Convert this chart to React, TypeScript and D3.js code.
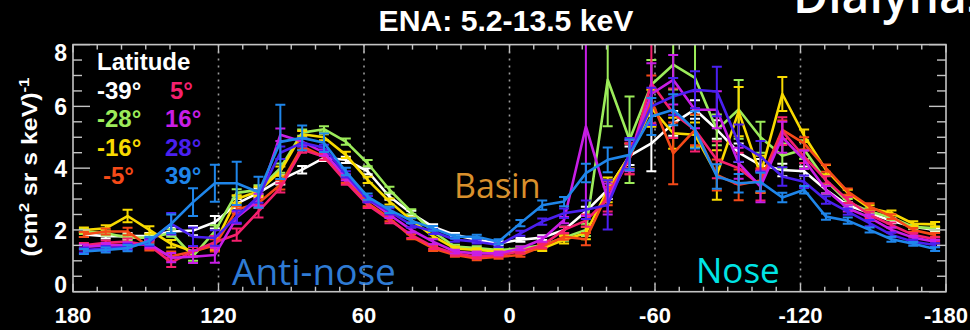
import React from 'react';
import * as d3 from 'd3';

// Longitude bin centres (deg), 9-degree bins
const longitudes = [175.5,166.5,157.5,148.5,139.5,130.5,121.5,112.5,103.5,94.5,85.5,76.5,67.5,58.5,49.5,40.5,31.5,22.5,13.5,4.5,-4.5,-13.5,-22.5,-31.5,-40.5,-49.5,-58.5,-67.5,-76.5,-85.5,-94.5,-103.5,-112.5,-121.5,-130.5,-139.5,-148.5,-157.5,-166.5,-175.5];

const latitudes = ['-39°', '-28°', '-16°', ' -5°', '5°', '16°', '28°', '39°'];
const colors = ['#ffffff', '#9cec5a', '#f8da00', '#f54a18', '#f5206e', '#c81ee6', '#4a20f0', '#1f86ea'];

const latM39 = [1.85,1.8,1.8,1.8,1.95,1.98,2.25,2.85,3.2,3.62,3.95,4.33,4.27,3.9,3.08,2.54,2.1,1.84,1.68,1.57,1.68,1.75,2.0,2.6,3.3,4.4,4.8,5.45,5.9,5.25,4.5,4.1,3.94,3.9,3.3,2.8,2.55,2.3,2.1,2.0];
const latM28 = [1.95,1.9,1.75,1.75,1.9,1.15,1.95,3.2,3.3,4.0,5.15,5.26,4.86,4.16,3.3,2.59,1.94,1.46,1.41,1.35,1.4,1.5,1.75,2.0,6.86,4.92,6.7,7.35,6.92,5.24,5.9,5.0,4.4,4.6,3.6,2.9,2.6,2.4,2.1,2.05];
const latM16 = [2.0,2.05,2.45,2.0,1.55,1.3,1.55,3.0,3.25,3.9,5.1,5.0,4.43,3.62,2.92,2.32,1.8,1.4,1.35,1.3,1.3,1.4,1.68,1.9,3.3,4.4,5.94,5.13,5.08,3.78,5.83,3.8,6.4,5.05,3.95,3.2,2.7,2.55,2.2,2.18];
const latM5 = [1.85,1.95,1.95,1.45,1.15,1.3,1.5,2.65,2.87,3.46,4.7,4.37,3.62,2.87,2.38,1.78,1.4,1.19,1.08,1.13,1.19,1.46,1.78,1.7,3.2,4.3,6.2,4.48,5.24,3.78,3.46,3.6,5.24,4.8,4.0,3.24,2.76,2.43,2.0,1.84];
const latP5 = [1.5,1.58,1.62,1.5,0.95,1.3,1.6,1.85,2.6,3.36,4.6,4.37,3.56,2.81,2.32,1.84,1.46,1.24,1.13,1.19,1.3,1.5,2.0,2.3,3.0,4.3,6.75,5.78,5.24,4.27,4.0,3.45,5.2,4.37,3.62,2.97,2.49,2.16,1.84,1.7];
const latP16 = [1.45,1.5,1.5,1.55,1.1,1.13,1.19,2.4,2.97,5.08,4.86,4.5,3.7,3.0,2.49,2.0,1.62,1.3,1.24,1.24,1.4,1.7,2.32,5.35,3.0,4.4,6.4,6.86,5.89,5.89,4.16,3.4,5.0,4.27,3.3,2.7,2.4,2.0,1.75,1.62];
const latP28 = [1.35,1.4,1.45,1.6,2.2,1.78,1.74,2.43,3.08,4.5,4.82,4.66,3.8,3.0,2.6,2.16,1.95,1.68,1.62,1.51,1.89,2.27,2.54,2.65,2.81,4.48,6.0,6.32,6.54,6.48,4.81,4.38,3.73,3.56,2.97,2.59,2.22,1.84,1.62,1.51];
const latP39 = [1.3,1.35,1.41,1.65,2.2,2.9,3.51,3.51,3.22,4.85,4.98,4.82,3.89,3.08,2.65,2.3,2.05,1.78,1.78,1.62,2.22,2.8,2.92,3.84,4.27,4.43,5.67,5.89,5.24,3.73,3.51,3.55,3.05,3.3,2.43,2.3,2.0,1.7,1.55,1.38];

const errM39 = [0.08,0.08,0.1,0.1,0.12,0.15,0.2,0.15,0.15,0.15,0.12,0.1,0.1,0.1,0.1,0.08,0.08,0.06,0.06,0.06,0.06,0.08,0.1,0.15,0.3,0.3,0.9,0.4,0.3,0.3,0.3,0.2,0.2,0.15,0.12,0.1,0.1,0.08,0.06,0.06];
const errM28 = [0.08,0.08,0.1,0.1,0.12,0.15,0.2,0.12,0.15,0.15,0.1,0.1,0.1,0.1,0.1,0.08,0.08,0.06,0.06,0.06,0.06,0.08,0.1,0.2,1.5,1.4,0.8,0.8,1.2,0.5,0.95,0.5,0.4,0.3,0.15,0.1,0.1,0.08,0.06,0.06];
const errM16 = [0.08,0.1,0.2,0.12,0.12,0.15,0.2,0.12,0.15,0.15,0.1,0.1,0.1,0.1,0.1,0.08,0.08,0.06,0.06,0.06,0.06,0.08,0.12,0.2,0.4,0.4,0.6,0.5,0.4,0.8,0.8,0.6,0.55,0.2,0.15,0.1,0.1,0.08,0.08,0.08];
const errM5 = [0.08,0.1,0.12,0.12,0.15,0.15,0.2,0.12,0.15,0.15,0.1,0.1,0.1,0.1,0.1,0.08,0.08,0.06,0.06,0.06,0.06,0.08,0.1,0.2,0.4,0.5,0.8,1.0,0.5,0.5,0.5,0.4,0.3,0.2,0.12,0.1,0.1,0.08,0.06,0.06];
const errP5 = [0.08,0.08,0.1,0.12,0.15,0.15,0.2,0.2,0.2,0.15,0.1,0.1,0.1,0.1,0.1,0.1,0.08,0.08,0.06,0.06,0.06,0.08,0.1,0.2,0.4,0.5,1.3,0.8,0.7,0.6,0.5,0.5,0.45,0.2,0.12,0.1,0.1,0.08,0.06,0.06];
const errP16 = [0.08,0.08,0.1,0.12,0.15,0.2,0.25,0.2,0.2,0.2,0.12,0.1,0.1,0.1,0.1,0.08,0.08,0.06,0.06,0.06,0.06,0.08,0.1,2.9,0.5,0.5,1.0,0.8,0.6,0.6,0.5,0.5,0.5,0.3,0.12,0.1,0.1,0.08,0.06,0.06];
const errP28 = [0.08,0.08,0.1,0.12,0.35,0.3,0.25,0.2,0.2,0.2,0.12,0.1,0.1,0.1,0.1,0.08,0.08,0.06,0.06,0.06,0.08,0.1,0.15,0.3,0.8,0.5,0.6,0.6,0.6,0.8,0.6,0.5,0.3,0.2,0.12,0.1,0.1,0.08,0.06,0.06];
const errP39 = [0.08,0.08,0.1,0.12,0.3,0.45,0.6,0.7,0.5,1.2,0.4,0.3,0.12,0.1,0.1,0.08,0.08,0.06,0.06,0.08,0.1,0.15,0.15,0.3,0.4,0.5,0.6,0.5,0.6,0.4,0.3,0.3,0.15,0.12,0.1,0.1,0.08,0.08,0.06,0.06];

const seriesValues = [latM39, latM28, latM16, latM5, latP5, latP16, latP28, latP39];
const seriesErrors = [errM39, errM28, errM16, errM5, errP5, errP16, errP28, errP39];

const xTicks = [180, 120, 60, 0, -60, -120, -180];
const yTicks = [0, 2, 4, 6, 8];
const dottedLons = [120, 60, 0, -60, -120];

const W = 970, H = 330;
const L = 73, R = 946, T = 44.6, B = 291.7;

export default function App() {
  const x = d3.scaleLinear().domain([180, -180]).range([L, R]);
  const y = d3.scaleLinear().domain([0, 8]).range([B, T]);
  const line = d3.line<number>().x((_, i) => x(longitudes[i])).y(d => y(d));
  const xMinor = d3.range(180, -181, -10);
  const yMinor = d3.range(0, 8.01, 0.5);
  const axisColor = '#c4c4c4';
  const sans = '"Liberation Sans", Arial, Helvetica, sans-serif';
  const open = '"Open Sans", "Noto Sans", sans-serif';

  return (
    <svg width={W} height={H} style={{ position: 'absolute', left: 0, top: 0, display: 'block' }}>
      <defs>
        <clipPath id="plotClip">
          <rect x={L} y={T} width={R - L} height={B - T} />
        </clipPath>
      </defs>
      <rect x={0} y={0} width={W} height={H} fill="#000" />

      {/* partial heading at top right (cropped in the source as well) */}
      <text x={793} y={13} fill="#fff" fontFamily={open} fontSize={48} fontWeight={600}>Dialynas</text>

      {/* title */}
      <text x={506} y={31} textAnchor="middle" fill="#fff" fontFamily={sans} fontWeight="bold" fontSize={30} textLength={255} lengthAdjust="spacingAndGlyphs">ENA: 5.2-13.5 keV</text>

      {/* dotted guides */}
      {dottedLons.map(d => (
        <line key={'d' + d} x1={x(d)} x2={x(d)} y1={T} y2={B} stroke="#9a9a9a" strokeWidth={1.6} strokeDasharray="2,5" />
      ))}

      {/* region labels */}
      <text x={232} y={285} fill="#2f7bd4" fontFamily={open} fontSize={37}>Anti-nose</text>
      <text x={454} y={198} fill="#d9902c" fontFamily={open} fontSize={34}>Basin</text>
      <text x={696} y={283} fill="#00e4e4" fontFamily={open} fontSize={35}>Nose</text>

      {/* data */}
      <g clipPath="url(#plotClip)">
        {seriesValues.map((vals, s) => (
          <g key={'s' + s}>
            <path d={line(vals) || ''} fill="none" stroke={colors[s]} strokeWidth={2.6} strokeLinejoin="round" />
            {vals.map((v, i) => {
              const e = seriesErrors[s][i];
              const cx = x(longitudes[i]);
              const y1 = y(v + e), y2 = y(v - e);
              return (
                <g key={i} stroke={colors[s]} strokeWidth={2}>
                  <line x1={cx} x2={cx} y1={y1} y2={y2} />
                  <line x1={cx - 5} x2={cx + 5} y1={y1} y2={y1} />
                  <line x1={cx - 5} x2={cx + 5} y1={y2} y2={y2} />
                </g>
              );
            })}
          </g>
        ))}
      </g>

      {/* frame */}
      <rect x={L} y={T} width={R - L} height={B - T} fill="none" stroke={axisColor} strokeWidth={1.6} />

      {/* x ticks */}
      {xMinor.map(d => {
        const len = d % 60 === 0 ? 8 : 5;
        return (
          <g key={'xt' + d} stroke={axisColor} strokeWidth={1.4}>
            <line x1={x(d)} x2={x(d)} y1={B} y2={B - len} />
            <line x1={x(d)} x2={x(d)} y1={T} y2={T + len} />
          </g>
        );
      })}
      {/* y ticks */}
      {yMinor.map(d => {
        const len = Math.abs(d % 2) < 1e-6 ? 17 : 9;
        return (
          <g key={'yt' + d} stroke={axisColor} strokeWidth={1.4}>
            <line x1={L} x2={L + len} y1={y(d)} y2={y(d)} />
            <line x1={R} x2={R - len} y1={y(d)} y2={y(d)} />
          </g>
        );
      })}

      {/* x tick labels */}
      {xTicks.map(d => (
        <text key={'xl' + d} x={x(d)} y={323} textAnchor="middle" fill="#fff" fontFamily={sans} fontWeight="bold" fontSize={22}>{d}</text>
      ))}
      {/* y tick labels */}
      {yTicks.map(d => {
        const shift = d === 8 ? 8 : d === 0 ? -7 : 1;
        return (
          <text key={'yl' + d} x={67} y={y(d) + shift} dy="0.35em" textAnchor="end" fill="#fff" fontFamily={sans} fontWeight="bold" fontSize={23}>{d}</text>
        );
      })}

      {/* y axis title */}
      <text transform="translate(37,167) rotate(-90)" textAnchor="middle" fill="#fff" fontFamily={sans} fontWeight="bold" fontSize={22} textLength={179} lengthAdjust="spacingAndGlyphs">
        (cm<tspan baselineShift="super" fontSize={15}>2</tspan> sr s keV)<tspan baselineShift="super" fontSize={15}>-1</tspan>
      </text>

      {/* legend */}
      <text x={97} y={70} fill="#fff" fontFamily={sans} fontWeight="bold" fontSize={24}>Latitude</text>
      {latitudes.map((lab, k) => {
        const col = k < 4 ? 0 : 1;
        const row = k % 4;
        const trimmed = lab.trim();
        const xPos = col === 0 ? (trimmed.length < lab.length ? 103 : 97) : (trimmed.length < 3 ? 170 : 165);
        return (
          <text key={'lg' + k} x={xPos} y={99 + row * 28.3} fill={colors[k]} fontFamily={sans} fontWeight="bold" fontSize={24}>{trimmed}</text>
        );
      })}
    </svg>
  );
}
